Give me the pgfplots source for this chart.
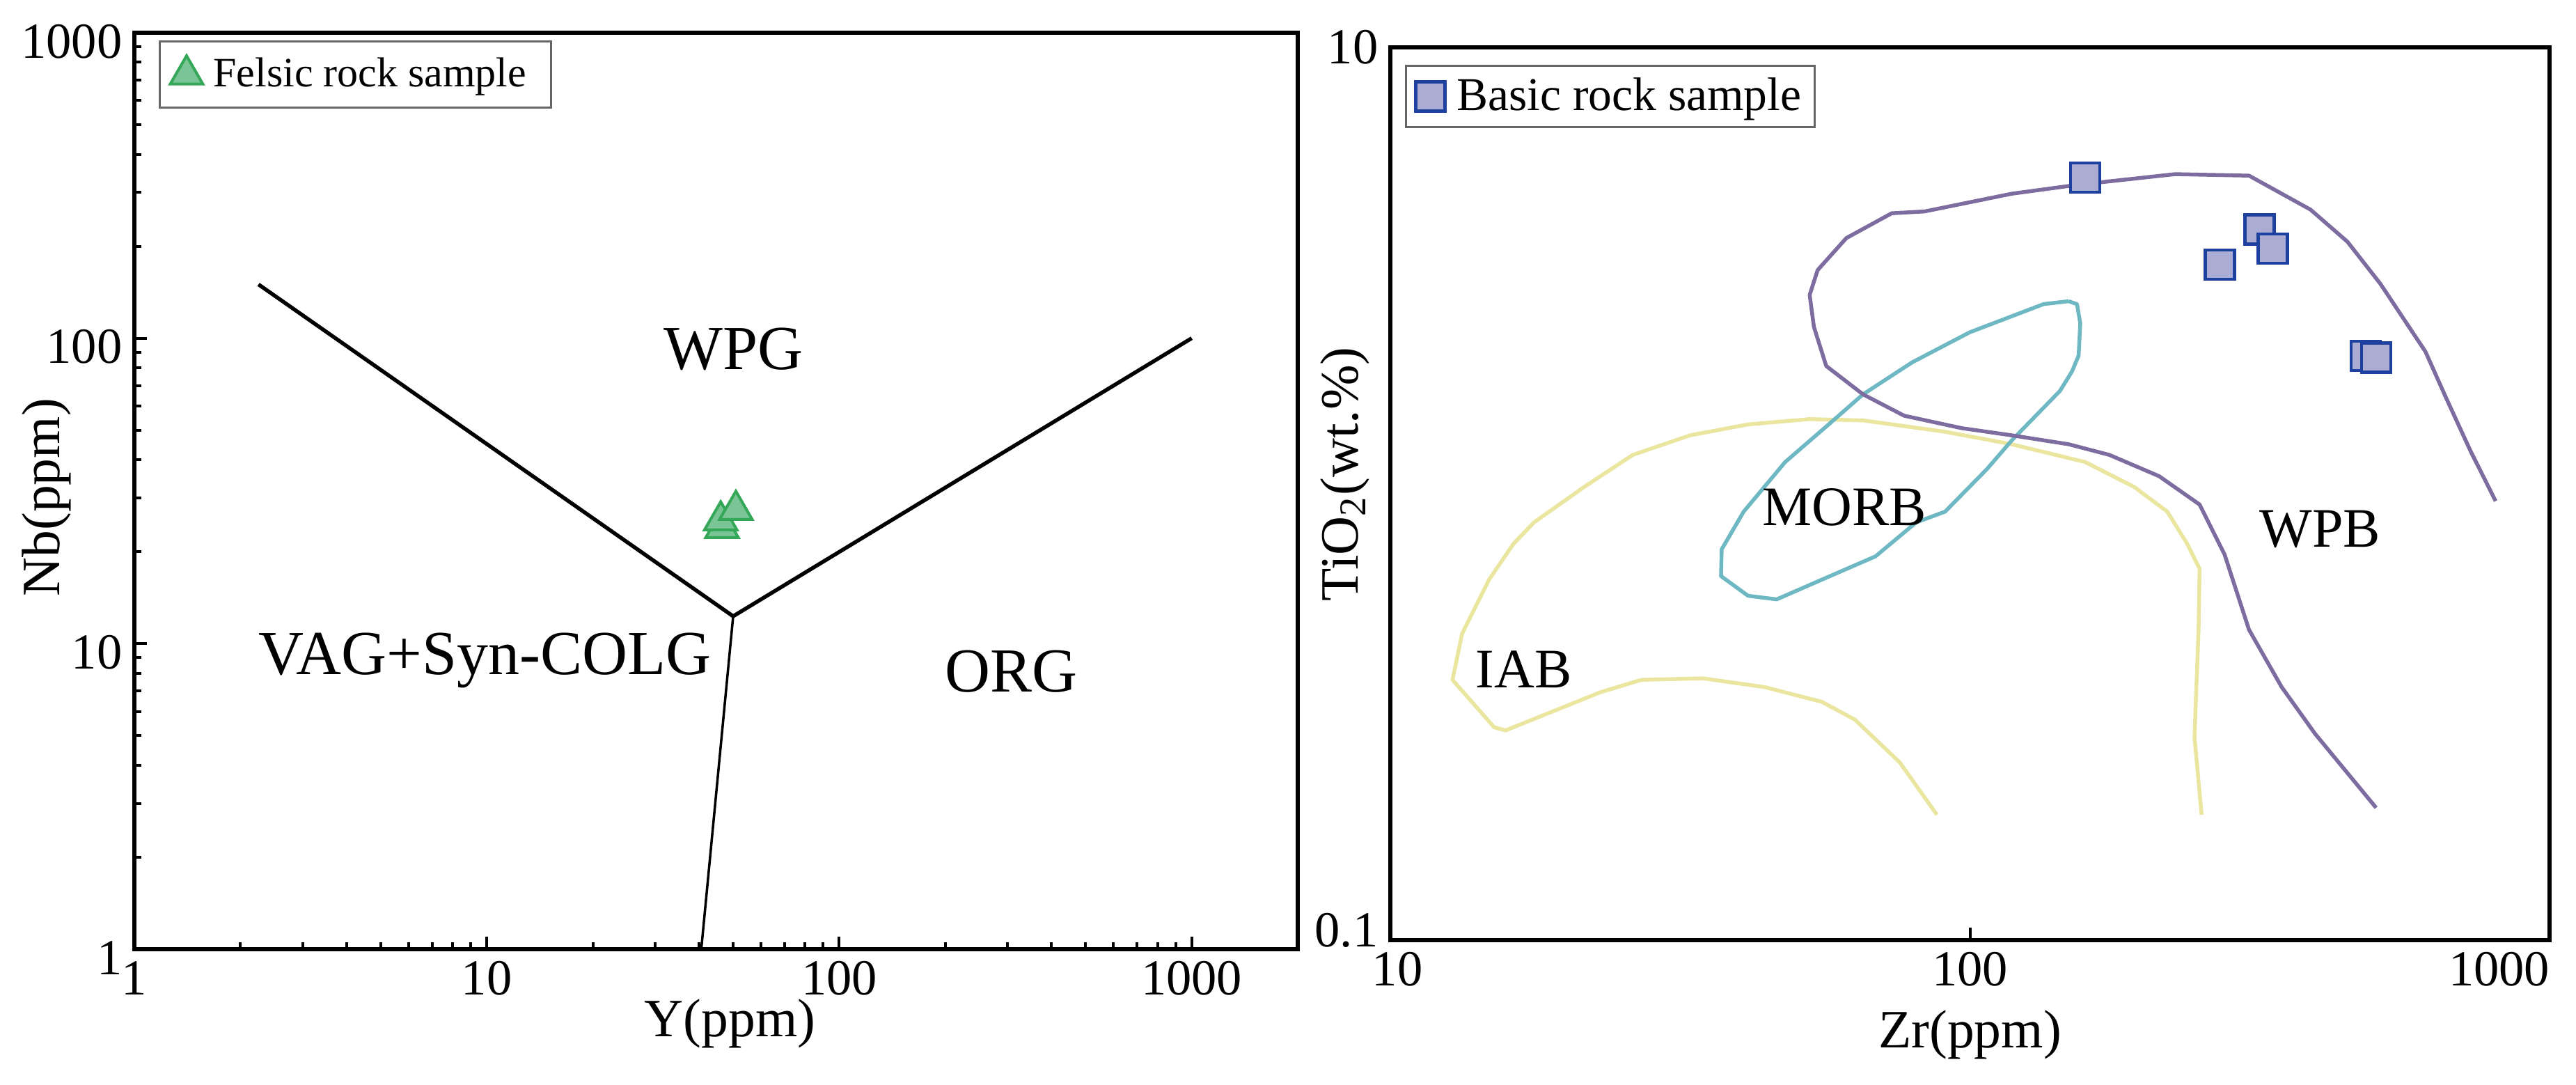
\documentclass[border=0pt]{standalone}
\usepackage{fontspec}
\setmainfont{Liberation Serif}
\usepackage{pgfplots}
\pgfplotsset{compat=1.18}
\definecolor{purp}{RGB}{124,108,160}
\definecolor{cyanl}{RGB}{110,184,196}
\definecolor{yell}{RGB}{234,230,160}
\definecolor{trifill}{RGB}{122,196,150}
\definecolor{triedge}{RGB}{52,168,88}
\definecolor{sqfill}{RGB}{170,172,212}
\definecolor{sqedge}{RGB}{30,65,160}
\begin{document}
\begin{tikzpicture}
\path[use as bounding box] (0,0) rectangle (740pt,311.4pt);
% ---------------- left: Nb vs Y ----------------
\begin{axis}[
  at={(38.6pt,38.8pt)}, anchor=south west, scale only axis,
  width=334.2pt, height=263.2pt,
  xmode=log, ymode=log, xmin=1, xmax=2000, ymin=1, ymax=1000,
  axis line style={line width=1.2pt},
  tick align=inside, tick pos=left,
  xtick={1,10,100,1000}, xticklabels={1,10,100,1000},
  ytick={1,10,100,1000}, yticklabels={1,10,100,1000},
  major tick length=3.6pt, minor tick length=2pt,
  tick style={black, line width=0.8pt},
  tick label style={font=\fontsize{14.5}{16}\selectfont},
  yticklabel style={yshift=-2.5pt},
  xlabel={Y(ppm)}, ylabel={Nb(ppm)},
  label style={font=\fontsize{15.5}{17}\selectfont},
  xlabel style={at={(axis description cs:0.512,0)}, anchor=base, yshift=-25pt, inner sep=0pt},
  ylabel style={at={(axis description cs:-0.054,0.493)}, anchor=south, inner sep=0pt},
  legend style={at={(axis description cs:0.021,0.9916)}, anchor=north west,
    draw=black!60, line width=0.6pt, fill=white, inner xsep=3pt, inner ysep=3.6pt,
    font=\fontsize{12}{14}\selectfont, nodes={inner sep=1pt},
    /tikz/every odd column/.append style={column sep=2pt}},
  legend cell align=left,
  legend image code/.code={\draw[#1, mark repeat=1] plot coordinates {(0pt,0pt)};},
]
\addplot[black, line width=1.1pt, line join=miter, forget plot] coordinates {(2.25,150) (50,12.3) (1000,100)};
\addplot[black, line width=0.7pt, forget plot] coordinates {(50,12.3) (40.6,1)};
\addplot[only marks, mark=triangle*, mark size=5.4pt, mark options={fill=trifill, draw=triedge, line width=0.8pt}]
  coordinates {(46.5,23.9) (46.1,25.3) (50.9,27.4)};
\addlegendentry{Felsic rock sample\hspace*{3pt}}
\node[anchor=base, font=\fontsize{18}{20}\selectfont] at (axis cs:50,79) {WPG};
\node[anchor=base, font=\fontsize{18}{20}\selectfont] at (axis cs:9.88,7.94) {VAG+Syn-COLG};
\node[anchor=base, font=\fontsize{18}{20}\selectfont] at (axis cs:308,6.96) {ORG};
\end{axis}
% ---------------- right: TiO2 vs Zr ----------------
\begin{axis}[
  at={(399.4pt,41.4pt)}, anchor=south west, scale only axis,
  width=333pt, height=256.4pt,
  xmode=log, ymode=log, xmin=10, xmax=1000, ymin=0.1, ymax=10,
  axis line style={line width=1.2pt},
  tick align=inside, tick pos=left,
  xtick={10,100,1000}, xticklabels={\hspace*{4pt}10,100,\makebox[0pt][r]{1000}},
  ytick={10}, yticklabels={10},
  extra y ticks={0.1}, extra y tick labels={0.1},
  extra y tick style={yticklabel style={yshift=2.8pt}},
  xminorticks=false, yminorticks=false,
  major tick length=3.6pt,
  tick style={black, line width=0.8pt},
  tick label style={font=\fontsize{14.5}{16}\selectfont},
  xlabel={Zr(ppm)}, ylabel={TiO\textsubscript{2}(wt.\%)},
  label style={font=\fontsize{15.5}{17}\selectfont},
  xlabel style={at={(axis description cs:0.5,0)}, anchor=base, yshift=-30.8pt, inner sep=0pt},
  ylabel style={at={(axis description cs:-0.0174,0.522)}, anchor=south, inner sep=0pt},
  legend style={at={(axis description cs:0.0126,0.9805)}, anchor=north west,
    draw=black!60, line width=0.6pt, fill=white, inner xsep=2.8pt, inner ysep=2.4pt,
    font=\fontsize{13.5}{15}\selectfont, nodes={inner sep=1pt},
    /tikz/every odd column/.append style={column sep=2.4pt}},
  legend cell align=left,
  legend image code/.code={\draw[#1, mark repeat=1] plot coordinates {(0pt,0pt)};},
]
\addplot[yell, line width=1.1pt, line join=round, forget plot] coordinates {
 (87.7,0.191) (75.7,0.250) (63.3,0.312) (55.5,0.342) (44.2,0.369) (34.6,0.386)
 (27.1,0.383) (23.0,0.359) (15.8,0.295) (15.1,0.300) (12.8,0.383) (13.3,0.486)
 (14.8,0.642) (16.3,0.772) (17.7,0.863) (21.6,1.036) (26.2,1.222) (32.9,1.352)
 (41.4,1.43) (52.9,1.47) (65.4,1.46) (90.6,1.377) (118,1.291) (158,1.178)
 (192,1.036) (219,0.912) (237,0.773) (249,0.679) (248,0.496) (244,0.285) (251,0.191)};
\addplot[cyanl, line width=1.1pt, line join=round, forget plot] coordinates {
 (148,2.70) (134,2.66) (99.9,2.30) (79.5,1.97) (65.4,1.67) (57.4,1.44) (48,1.178)
 (40.7,0.912) (37.3,0.751) (37.2,0.654) (41.4,0.591) (46.4,0.580) (55.5,0.642)
 (68.7,0.724) (80.8,0.863) (90.6,0.912) (107,1.136) (118,1.316) (143,1.70)
 (150,1.88) (154,2.04) (155,2.41) (153,2.66) (148,2.70)};
\addplot[purp, line width=1.1pt, line join=round, forget plot] coordinates {
 (502,0.198) (394,0.290) (345,0.369) (303,0.496) (275,0.731) (249,0.946)
 (212,1.095) (174,1.222) (148,1.291) (118,1.352) (96.7,1.403) (77,1.496)
 (65.4,1.670) (56.5,1.933) (53.8,2.365) (52.9,2.789) (54.6,3.17) (61.2,3.74)
 (73.3,4.25) (83.5,4.29) (118,4.70) (153,4.92) (226,5.20) (303,5.16) (387,4.33)
 (448,3.67) (511,2.95) (611,2.08) (663,1.64) (731,1.245) (807,0.963)};
\addplot[only marks, mark=square*, mark size=4.2pt, mark options={fill=sqfill, draw=sqedge, line width=0.9pt}]
  coordinates {(158,5.11) (270,3.26) (316,3.91) (333,3.54) (482,2.035) (502,2.02)};
\addlegendentry{Basic rock sample}
\node[anchor=base, font=\fontsize{16}{18}\selectfont] at (axis cs:60.7,0.848) {MORB};
\node[anchor=base, font=\fontsize{16}{18}\selectfont] at (axis cs:402,0.759) {WPB};
\node[anchor=base, font=\fontsize{16}{18}\selectfont] at (axis cs:17.0,0.368) {IAB};
\end{axis}
\end{tikzpicture}
\end{document}
